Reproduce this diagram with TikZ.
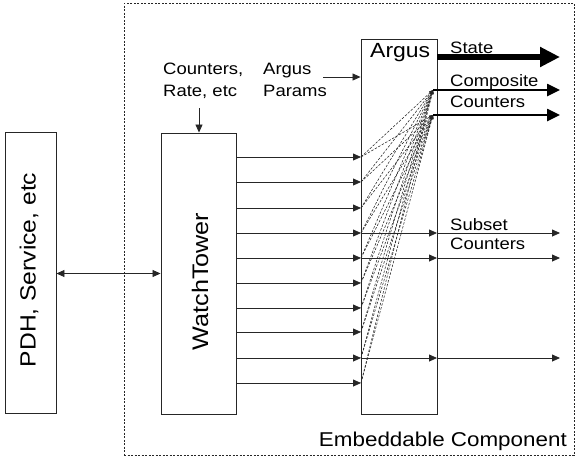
\documentclass[tikz,border=0pt]{standalone}
\usepackage{fontspec}
\setmainfont{Liberation Sans}[FakeStretch=1.12]
\usetikzlibrary{arrows.meta}
\begin{document}
\begin{tikzpicture}[x=1pt,y=-1pt,
  box/.style={draw=black!85, line width=0.9pt, inner sep=0pt},
  thinarrow/.style={draw=black!85, line width=0.8pt, -{Triangle[length=8pt,width=7pt]}},
  botharrow/.style={draw=black!85, line width=0.8pt, {Triangle[length=8pt,width=7pt]}-{Triangle[length=8pt,width=7pt]}},
  fan/.style={draw=black!85, line width=0.55pt, dash pattern=on 2.5pt off 1.5pt, -{Triangle[length=4pt,width=3pt]}},
  fatarrow/.style={line width=6pt, -{Triangle[length=20pt,width=19pt]}},
  midarrow/.style={line width=2.5pt, -{Triangle[length=13pt,width=12pt]}},
  small/.style={font=\fontsize{16.5}{20}\selectfont, inner sep=0pt, anchor=base west},
  big/.style={font=\fontsize{#1}{#1}\selectfont, inner sep=0pt}
]
\useasboundingbox (0,0) rectangle (576,458);
% outer dashed container
\node[draw=black!85, line width=0.6pt, dash pattern=on 2pt off 1.5pt, minimum width=450, minimum height=452, inner sep=0pt] (embed) at (349,229) {};
\node[big=20, anchor=base east] (embedlbl) at (567,446) {Embeddable Component};
% boxes
\node[box, minimum width=51, minimum height=281] (pdh) at (30.5,272.5) {};
\node[big=22, rotate=90] (pdhlbl) at (29,270) {PDH, Service, etc};
\node[box, minimum width=75, minimum height=281] (wt) at (198.5,273.5) {};
\node[big=22.5, rotate=90] (wtlbl) at (200,281.5) {WatchTower};
\node[box, minimum width=76, minimum height=375] (argus) at (399,226.5) {};
\node[big=20.5, anchor=base west] (arguslbl) at (370,57) {Argus};
% PDH <-> WatchTower
\draw[botharrow] (pdh.east |- wt.west) -- (wt.west);
% input labels
\node[small] (cnt1) at (163,74) {Counters,};
\node[small] (cnt2) at (163,96) {Rate, etc};
\node[small] (par1) at (263,74) {Argus};
\node[small] (par2) at (263,96) {Params};
\coordinate (cntstart) at (199,108);
\coordinate (parstart) at (323,77);
\draw[thinarrow] (cntstart) -- (cntstart |- wt.north);
\draw[thinarrow] (parstart) -- (parstart -| argus.west);
% rows
\foreach \yy [count=\i] in {157,182,208,233,258,283,308,332,358,383} {
  \coordinate (w\i) at (236,\yy);
  \coordinate (a\i) at (361,\yy);
  \coordinate (r\i) at (437,\yy);
  \coordinate (o\i) at (560,\yy);
}
\coordinate (c1) at (433,90);
\coordinate (c2) at (433,115);
\coordinate (s0) at (437,57);
\coordinate (s1) at (560,57);
\coordinate (e1) at (560,90);
\coordinate (e2) at (560,115);
\foreach \i in {1,...,10} {
  \draw[thinarrow] (w\i) -- (a\i);
  \draw[fan] (a\i) -- (c1);
  \draw[fan] (a\i) -- (c2);
}
\foreach \i in {4,5,9} {
  \draw[thinarrow] (a\i) -- (r\i);
  \draw[thinarrow] (r\i) -- (o\i);
}
% outputs
\draw[fatarrow] (s0) -- (s1);
\draw[midarrow] (c1) -- (e1);
\draw[midarrow] (c2) -- (e2);
\node[small] (statelbl) at (450,53) {State};
\node[small] (comp1) at (450,86) {Composite};
\node[small] (comp2) at (450,107) {Counters};
\node[small] (sub1) at (450,230) {Subset};
\node[small] (sub2) at (450,249) {Counters};
\end{tikzpicture}
\end{document}
